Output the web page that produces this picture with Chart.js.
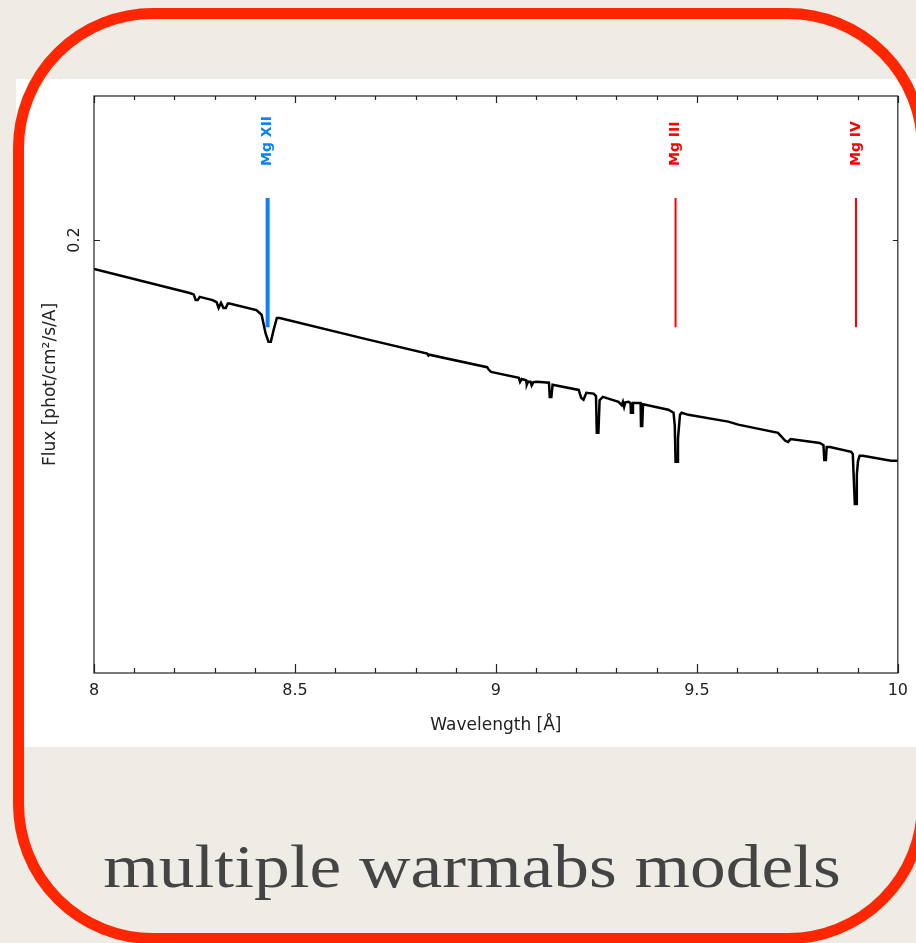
<!DOCTYPE html>
<html>
<head>
<meta charset="utf-8">
<script src="https://cdn.jsdelivr.net/npm/chart.js@4.4.1/dist/chart.umd.min.js"></script>
<style>
    html, body { margin: 0; padding: 0; }
    body {
        width: 916px; height: 943px; overflow: hidden; position: relative;
        background: #efece6;
    }
    #panel {
        position: absolute; left: 16px; top: 79px; width: 900px; height: 668px;
        background: #fff;
    }
    #frame {
        position: absolute; left: 13px; top: 8px; width: 893px; height: 914px;
        border: 11px solid #ff2600; border-radius: 140px;
        pointer-events: none; z-index: 5;
    }
    #caption {
        position: absolute; left: 0; top: 832px; width: 944px; text-align: center;
        font-family: "Liberation Serif", serif; font-size: 61px; line-height: 70px;
        color: #444; transform: scaleX(1.17); transform-origin: 472px 0;
    }
</style>
</head>
<body>
<div id="panel"><canvas id="spectrum" width="900" height="668"></canvas></div>
<div id="frame"></div>
<div id="caption">multiple warmabs models</div>
<script>
// spectrum (wavelength in Angstrom, flux in phot/cm2/s/A)
const wavelength = [
    8.000, 8.238, 8.248, 8.253, 8.258, 8.263, 8.295, 8.305, 8.310, 8.316,
    8.322, 8.328, 8.333, 8.337, 8.404, 8.417, 8.427, 8.434, 8.440, 8.447,
    8.455, 8.462, 8.685, 8.829, 8.832, 8.834, 8.978, 8.982, 8.988, 9.057,
    9.060, 9.064, 9.075, 9.077, 9.080, 9.086, 9.089, 9.093, 9.102, 9.132,
    9.134, 9.138, 9.141, 9.206, 9.212, 9.218, 9.225, 9.243, 9.249, 9.251,
    9.255, 9.258, 9.266, 9.305, 9.313, 9.316, 9.319, 9.322, 9.330, 9.335,
    9.336, 9.339, 9.341, 9.360, 9.361, 9.364, 9.366, 9.372, 9.429, 9.442,
    9.445, 9.447, 9.451, 9.453, 9.458, 9.462, 9.479, 9.578, 9.603, 9.702,
    9.720, 9.727, 9.733, 9.806, 9.815, 9.817, 9.821, 9.823, 9.831, 9.884,
    9.888, 9.890, 9.893, 9.896, 9.898, 9.901, 9.905, 9.913, 9.983, 10.000
];
const flux = [
    0.1912, 0.1842, 0.1838, 0.1822, 0.1822, 0.1831, 0.1822, 0.1816, 0.1800, 0.1814,
    0.1800, 0.1800, 0.1812, 0.1812, 0.1794, 0.1781, 0.1730, 0.1708, 0.1708, 0.1740,
    0.1772, 0.1772, 0.1713, 0.1677, 0.1672, 0.1674, 0.1642, 0.1636, 0.1630, 0.1615,
    0.1605, 0.1612, 0.1609, 0.1598, 0.1605, 0.1605, 0.1596, 0.1604, 0.1605, 0.1603,
    0.1568, 0.1568, 0.1598, 0.1585, 0.1566, 0.1561, 0.1578, 0.1576, 0.1570, 0.1483,
    0.1483, 0.1560, 0.1568, 0.1556, 0.1548, 0.1556, 0.1544, 0.1555, 0.1556, 0.1553,
    0.1530, 0.1530, 0.1553, 0.1553, 0.1499, 0.1499, 0.1550, 0.1549, 0.1537, 0.1530,
    0.1500, 0.1418, 0.1418, 0.1470, 0.1525, 0.1530, 0.1525, 0.1509, 0.1502, 0.1483,
    0.1465, 0.1462, 0.1469, 0.1460, 0.1455, 0.1422, 0.1422, 0.1451, 0.1451, 0.1440,
    0.1435, 0.1390, 0.1328, 0.1328, 0.1390, 0.1420, 0.1431, 0.1431, 0.1420, 0.1420
];

// line identifications
const lineNames = ['Mg XII', 'Mg III', 'Mg IV'];
const lineWl = [8.432, 9.447, 9.896];
const lineColors = ['#0a80ff', '#ff0000', '#ff0000'];
const lineWidths = [4, 2, 2];
const markTop = 0.2134;
const markBottom = 0.1747;
const labelFlux = 0.2243;

// axes
const xTickValues = [8, 8.5, 9, 9.5, 10];
const xTickLabels = ['8', '8.5', '9', '9.5', '10'];
const xMinorTicks = [8.1, 8.2, 8.3, 8.4, 8.6, 8.7, 8.8, 8.9, 9.1, 9.2, 9.3, 9.4, 9.6, 9.7, 9.8, 9.9];
const yTickValues = [0.2];
const yTickLabels = ['0.2'];
const yMin = 0.1022;
const yMax = 0.25;

const tickFont = { family: 'DejaVu Sans', size: 16 };
const titleFont = { family: 'DejaVu Sans', size: 17 };

// Inward tick marks and the closed frame
const frameTicks = {
    id: 'frameTicks',
    afterDatasetsDraw(chart) {
        const { ctx, chartArea: a, scales: { x, y } } = chart;
        ctx.save();
        ctx.strokeStyle = '#222';
        ctx.lineWidth = 1.2;
        ctx.strokeRect(a.left, a.top, a.right - a.left, a.bottom - a.top);
        ctx.beginPath();
        xTickValues.forEach(v => {
            const px = Math.round(x.getPixelForValue(v)) + 0.5;
            ctx.moveTo(px, a.bottom); ctx.lineTo(px, a.bottom - 9);
            ctx.moveTo(px, a.top); ctx.lineTo(px, a.top + 7);
        });
        xMinorTicks.forEach(v => {
            const px = Math.round(x.getPixelForValue(v)) + 0.5;
            ctx.moveTo(px, a.bottom); ctx.lineTo(px, a.bottom - 5);
            ctx.moveTo(px, a.top); ctx.lineTo(px, a.top + 4);
        });
        yTickValues.forEach(v => {
            const py = Math.round(y.getPixelForValue(v)) + 0.5;
            ctx.moveTo(a.left, py); ctx.lineTo(a.left + 6, py);
            ctx.moveTo(a.right, py); ctx.lineTo(a.right - 5, py);
        });
        ctx.stroke();

        // line labels, rotated
        ctx.font = 'bold 14px "DejaVu Sans"';
        ctx.textAlign = 'left';
        ctx.textBaseline = 'middle';
        lineNames.forEach((name, i) => {
            ctx.save();
            ctx.translate(x.getPixelForValue(lineWl[i]), y.getPixelForValue(labelFlux));
            ctx.rotate(-Math.PI / 2);
            ctx.fillStyle = lineColors[i];
            ctx.fillText(name, 0, 0);
            ctx.restore();
        });
        ctx.restore();
    }
};

const datasets = [{
    label: 'model',
    data: wavelength.map((w, i) => ({ x: w, y: flux[i] })),
    borderColor: '#000',
    borderWidth: 2.5,
    pointRadius: 0,
    tension: 0
}];
lineNames.forEach((name, i) => {
    datasets.push({
        label: name,
        data: [{ x: lineWl[i], y: markTop }, { x: lineWl[i], y: markBottom }],
        borderColor: lineColors[i],
        borderWidth: lineWidths[i],
        borderCapStyle: 'butt',
        pointRadius: 0
    });
});

new Chart(document.getElementById('spectrum'), {
    type: 'line',
    data: { datasets: datasets },
    options: {
        responsive: false,
        animation: false,
        devicePixelRatio: 1,
        layout: { padding: { top: 17, right: 16, left: 0, bottom: 0 } },
        plugins: { legend: { display: false }, tooltip: { enabled: false } },
        scales: {
            x: {
                type: 'linear',
                min: 8,
                max: 10,
                afterBuildTicks: s => { s.ticks = xTickValues.map(v => ({ value: v })); },
                afterFit: s => { s.height = 74; },
                grid: { display: false, drawTicks: false },
                border: { display: false },
                ticks: {
                    color: '#222', font: tickFont, padding: 8,
                    callback: (v, i) => xTickLabels[i]
                },
                title: {
                    display: true, text: 'Wavelength [Å]', color: '#222',
                    font: titleFont, padding: { top: 0, bottom: 11 }
                }
            },
            y: {
                type: 'logarithmic',
                min: yMin,
                max: yMax,
                afterBuildTicks: s => { s.ticks = yTickValues.map(v => ({ value: v })); },
                afterFit: s => { s.width = 78; },
                grid: { display: false, drawTicks: false },
                border: { display: false },
                ticks: {
                    color: '#222', font: tickFont, padding: 6,
                    minRotation: 90, maxRotation: 90, crossAlign: 'center',
                    callback: (v, i) => yTickLabels[i]
                },
                title: {
                    display: true, text: 'Flux [phot/cm²/s/A]', color: '#222',
                    font: titleFont, padding: { top: 24, bottom: 0 }
                }
            }
        }
    },
    plugins: [frameTicks]
});
</script>
</body>
</html>
